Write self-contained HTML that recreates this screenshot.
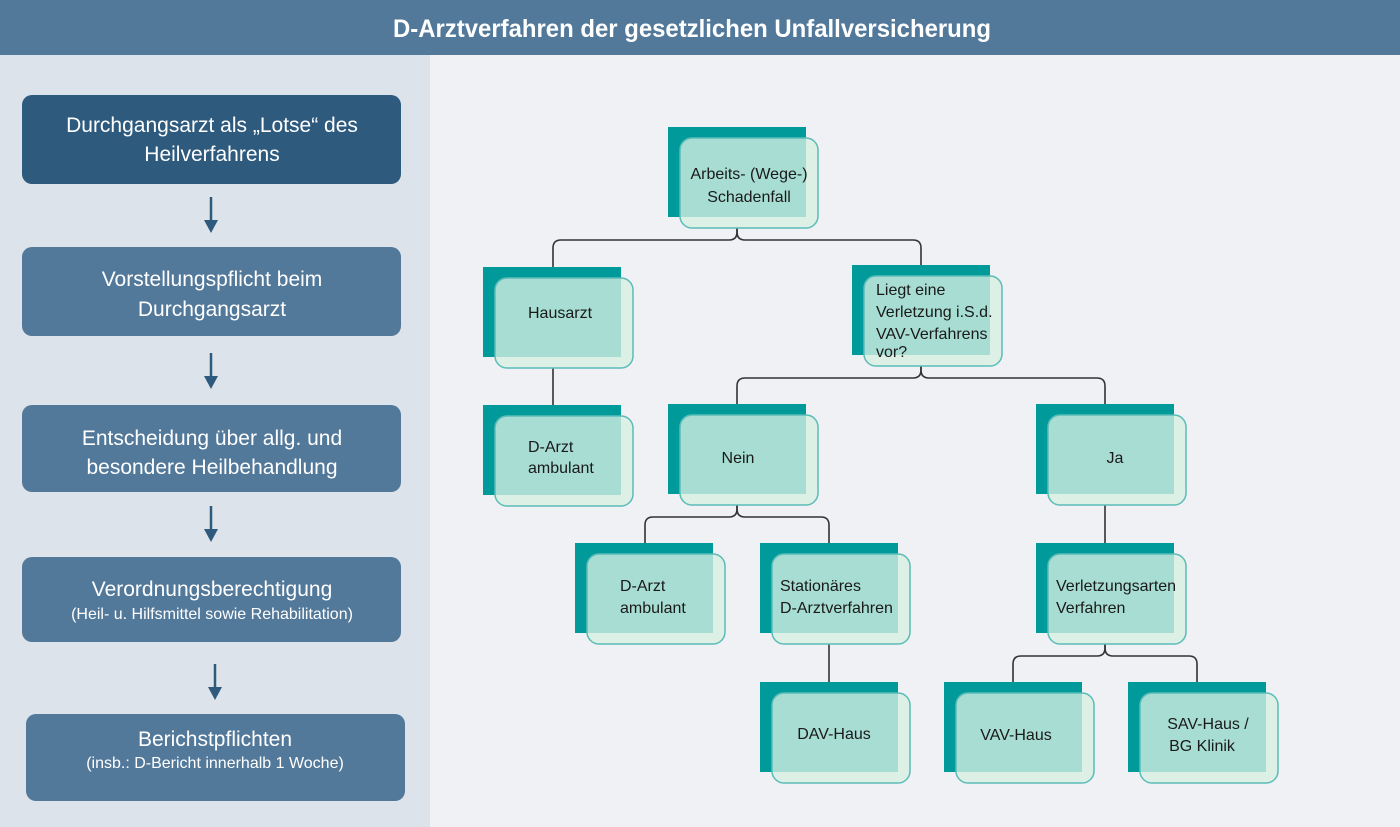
<!DOCTYPE html>
<html><head><meta charset="utf-8"><style>
html,body{margin:0;padding:0;width:1400px;height:827px;overflow:hidden;background:#eff1f4}
svg{display:block}
text{font-family:"Liberation Sans",sans-serif}
.n{font-size:16px;fill:#1a1a1a}
.l{font-size:21px;fill:#fff}
.s{font-size:16px;fill:#fff}
</style></head><body>
<svg width="1400" height="827" viewBox="0 0 1400 827" xmlns="http://www.w3.org/2000/svg">
<rect x="0" y="0" width="1400" height="827" fill="#eff1f4"/>
<rect x="0" y="55" width="430" height="772" fill="#dce3ea"/>
<rect x="0" y="0" width="1400" height="55" fill="#52789a"/>
<text x="692" y="37" text-anchor="middle" font-size="25" font-weight="bold" fill="#fff" textLength="598" lengthAdjust="spacingAndGlyphs">D-Arztverfahren der gesetzlichen Unfallversicherung</text>

<rect x="22" y="95" width="379" height="89" rx="10" fill="#2e5a7e"/>
<text class="l" x="212" y="132" text-anchor="middle">Durchgangsarzt als „Lotse“ des</text>
<text class="l" x="212" y="161" text-anchor="middle">Heilverfahrens</text>
<rect x="22" y="247" width="379" height="89" rx="10" fill="#52789a"/>
<text class="l" x="212" y="286" text-anchor="middle">Vorstellungspflicht beim</text>
<text class="l" x="212" y="316" text-anchor="middle">Durchgangsarzt</text>
<rect x="22" y="405" width="379" height="87" rx="10" fill="#52789a"/>
<text class="l" x="212" y="445" text-anchor="middle">Entscheidung über allg.  und</text>
<text class="l" x="212" y="474" text-anchor="middle">besondere Heilbehandlung</text>
<rect x="22" y="557" width="379" height="85" rx="10" fill="#52789a"/>
<text class="l" x="212" y="596" text-anchor="middle">Verordnungsberechtigung</text>
<text class="s" x="212" y="619" text-anchor="middle">(Heil- u. Hilfsmittel sowie Rehabilitation)</text>
<rect x="26" y="714" width="379" height="87" rx="10" fill="#52789a"/>
<text class="l" x="215" y="746" text-anchor="middle">Berichstpflichten</text>
<text class="s" x="215" y="768" text-anchor="middle">(insb.: D-Bericht innerhalb 1 Woche)</text>

<g fill="#2e5a7e" stroke="#2e5a7e" stroke-width="2.5">
<line x1="211" y1="197" x2="211" y2="222"/><path d="M204 220h14l-7 13z" stroke="none"/>
<line x1="211" y1="353" x2="211" y2="378"/><path d="M204 376h14l-7 13z" stroke="none"/>
<line x1="211" y1="506" x2="211" y2="531"/><path d="M204 529h14l-7 13z" stroke="none"/>
<line x1="215" y1="664" x2="215" y2="689"/><path d="M208 687h14l-7 13z" stroke="none"/>
</g>

<g fill="none" stroke="#333" stroke-width="1.6">
<path d="M737 228v4q0 8-8 8H561q-8 0-8 8V267"/>
<path d="M737 228v4q0 8 8 8H913q8 0 8 8V265"/>
<path d="M553 368V405"/>
<path d="M921 366v4q0 8-8 8H745q-8 0-8 8V404"/>
<path d="M921 366v4q0 8 8 8H1097q8 0 8 8V404"/>
<path d="M737 505v4q0 8-8 8H653q-8 0-8 8V543"/>
<path d="M737 505v4q0 8 8 8H821q8 0 8 8V543"/>
<path d="M1105 505V543"/>
<path d="M829 644V682"/>
<path d="M1105 644v4q0 8-8 8H1021q-8 0-8 8V682"/>
<path d="M1105 644v4q0 8 8 8H1189q8 0 8 8V682"/>
</g>

<g>
<g transform="translate(668,127)"><rect width="138" height="90" fill="#009a9a"/><rect x="12" y="11" width="138" height="90" rx="12" fill="rgba(214,240,226,0.78)" stroke="#5bbcb8" stroke-width="1.5"/>
<text class="n" x="81" y="52" text-anchor="middle">Arbeits- (Wege-)</text><text class="n" x="81" y="75" text-anchor="middle">Schadenfall</text></g>

<g transform="translate(483,267)"><rect width="138" height="90" fill="#009a9a"/><rect x="12" y="11" width="138" height="90" rx="12" fill="rgba(214,240,226,0.78)" stroke="#5bbcb8" stroke-width="1.5"/>
<text class="n" x="77" y="51" text-anchor="middle">Hausarzt</text></g>

<g transform="translate(852,265)"><rect width="138" height="90" fill="#009a9a"/><rect x="12" y="11" width="138" height="90" rx="12" fill="rgba(214,240,226,0.78)" stroke="#5bbcb8" stroke-width="1.5"/>
<text class="n" x="24" y="30">Liegt eine</text><text class="n" x="24" y="52">Verletzung i.S.d.</text><text class="n" x="24" y="74">VAV-Verfahrens</text><text class="n" x="24" y="92">vor?</text></g>

<g transform="translate(483,405)"><rect width="138" height="90" fill="#009a9a"/><rect x="12" y="11" width="138" height="90" rx="12" fill="rgba(214,240,226,0.78)" stroke="#5bbcb8" stroke-width="1.5"/>
<text class="n" x="45" y="47">D-Arzt</text><text class="n" x="45" y="68">ambulant</text></g>

<g transform="translate(668,404)"><rect width="138" height="90" fill="#009a9a"/><rect x="12" y="11" width="138" height="90" rx="12" fill="rgba(214,240,226,0.78)" stroke="#5bbcb8" stroke-width="1.5"/>
<text class="n" x="70" y="59" text-anchor="middle">Nein</text></g>

<g transform="translate(1036,404)"><rect width="138" height="90" fill="#009a9a"/><rect x="12" y="11" width="138" height="90" rx="12" fill="rgba(214,240,226,0.78)" stroke="#5bbcb8" stroke-width="1.5"/>
<text class="n" x="79" y="59" text-anchor="middle">Ja</text></g>

<g transform="translate(575,543)"><rect width="138" height="90" fill="#009a9a"/><rect x="12" y="11" width="138" height="90" rx="12" fill="rgba(214,240,226,0.78)" stroke="#5bbcb8" stroke-width="1.5"/>
<text class="n" x="45" y="48">D-Arzt</text><text class="n" x="45" y="70">ambulant</text></g>

<g transform="translate(760,543)"><rect width="138" height="90" fill="#009a9a"/><rect x="12" y="11" width="138" height="90" rx="12" fill="rgba(214,240,226,0.78)" stroke="#5bbcb8" stroke-width="1.5"/>
<text class="n" x="20" y="48">Stationäres</text><text class="n" x="20" y="70">D-Arztverfahren</text></g>

<g transform="translate(1036,543)"><rect width="138" height="90" fill="#009a9a"/><rect x="12" y="11" width="138" height="90" rx="12" fill="rgba(214,240,226,0.78)" stroke="#5bbcb8" stroke-width="1.5"/>
<text class="n" x="20" y="48">Verletzungsarten</text><text class="n" x="20" y="70">Verfahren</text></g>

<g transform="translate(760,682)"><rect width="138" height="90" fill="#009a9a"/><rect x="12" y="11" width="138" height="90" rx="12" fill="rgba(214,240,226,0.78)" stroke="#5bbcb8" stroke-width="1.5"/>
<text class="n" x="74" y="57" text-anchor="middle">DAV-Haus</text></g>

<g transform="translate(944,682)"><rect width="138" height="90" fill="#009a9a"/><rect x="12" y="11" width="138" height="90" rx="12" fill="rgba(214,240,226,0.78)" stroke="#5bbcb8" stroke-width="1.5"/>
<text class="n" x="72" y="58" text-anchor="middle">VAV-Haus</text></g>

<g transform="translate(1128,682)"><rect width="138" height="90" fill="#009a9a"/><rect x="12" y="11" width="138" height="90" rx="12" fill="rgba(214,240,226,0.78)" stroke="#5bbcb8" stroke-width="1.5"/>
<text class="n" x="80" y="47" text-anchor="middle">SAV-Haus /</text><text class="n" x="74" y="69" text-anchor="middle">BG Klinik</text></g>
</g>
</svg>
</body></html>
